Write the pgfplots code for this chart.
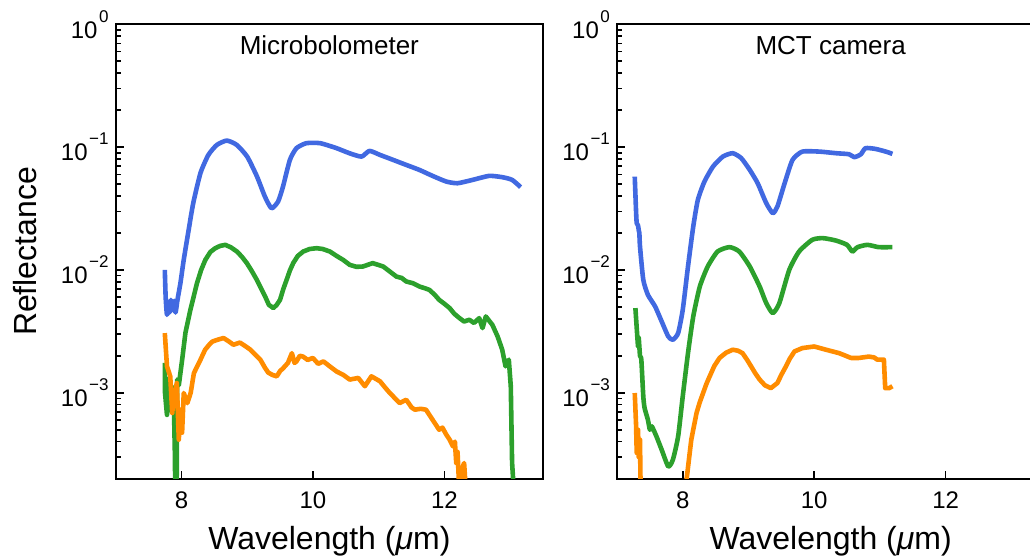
\documentclass[border=0pt]{standalone}
\usepackage{fontspec}
\setmainfont{Liberation Sans}
\usepackage{pgfplots}
\pgfplotsset{compat=1.18}

\definecolor{cblue}{HTML}{4169E1}
\definecolor{cgreen}{HTML}{2CA02C}
\definecolor{corange}{HTML}{FF8C00}

% decade label: 10 with a raised exponent
\newcommand\dec[1]{10\kern0.8pt\raisebox{8pt}{\fontsize{8.5}{9}\selectfont #1}}

\pgfplotsset{
  every axis/.append style={
    scale only axis, width=213.65pt, height=227.15pt,
    xmin=7, xmax=13.5, ymin=2e-4, ymax=1,
    xtick={8,10,12}, xticklabels={8,10,12},
    ytick={1e-3,1e-2,1e-1,1},
    yticklabels={\dec{−3},\dec{−2},\dec{−1},\dec{0}},
    minor ytick={2e-4,3e-4,4e-4,5e-4,6e-4,7e-4,8e-4,9e-4,
                 2e-3,3e-3,4e-3,5e-3,6e-3,7e-3,8e-3,9e-3,
                 2e-2,3e-2,4e-2,5e-2,6e-2,7e-2,8e-2,9e-2,
                 2e-1,3e-1,4e-1,5e-1,6e-1,7e-1,8e-1,9e-1},
    xtick pos=left, ytick pos=left,
    tick align=inside,
    major tick length=4pt, minor tick length=2.5pt,
    axis line style={line width=1pt},
    tick label style={font=\fontsize{12}{12}\selectfont},
    xticklabel style={yshift=-3pt},
    xlabel={Wavelength (\textit{μ}m)},
    xlabel style={font=\fontsize{16}{16}\selectfont, at={(axis description cs:0.5,-0.1387)}, anchor=center},
    ylabel style={font=\fontsize{16}{16}\selectfont},
  },
  every tick/.append style={black, line width=0.8pt},
  every axis plot/.append style={line width=2.3pt, line join=round},
}

\begin{document}
\begin{tikzpicture}
% ---------------- Microbolometer ----------------
\begin{semilogyaxis}[at={(57.85pt,40.7pt)}, anchor=south west,
  ylabel={Reflectance},
  ylabel style={at={(axis description cs:-0.211,0.5)}, anchor=center}]
\addplot[cblue, no marks, smooth, tension=0.35] coordinates {
(7.747,0.0100) (7.76,0.0060) (7.78,0.00431) (7.80,0.0055) (7.82,0.0045)
(7.84,0.0057) (7.86,0.0047) (7.89,0.0056) (7.91,0.0045) (7.94,0.00571)
(7.985,0.00785) (8.035,0.01208) (8.11,0.0212) (8.18,0.0351) (8.29,0.0616)
(8.41,0.0864) (8.54,0.1043) (8.69,0.113) (8.84,0.1043) (9.0,0.0837)
(9.15,0.0575) (9.27,0.0395) (9.37,0.0318) (9.47,0.0360) (9.545,0.0477)
(9.65,0.0787) (9.75,0.098) (9.90,0.1076) (10.11,0.1076) (10.36,0.098)
(10.56,0.089) (10.74,0.0837) (10.86,0.0931) (11.02,0.0864) (11.22,0.0787)
(11.42,0.0716) (11.62,0.0652) (11.82,0.0583) (12.03,0.0524) (12.20,0.0508)
(12.43,0.0541) (12.68,0.0583) (12.88,0.0569) (13.03,0.0541) (13.16,0.0472)
};
\addplot[cgreen, no marks] coordinates {
(7.747,0.00175) (7.75,0.00100) (7.78,0.00066) (7.80,0.00130) (7.83,0.00080)
(7.86,0.00069) (7.88,0.00110) (7.90,0.00032) (7.91,0.00010) (7.925,0.00010)
(7.935,0.00128) (7.96,0.00115) (8.011,0.00186) (8.061,0.00308) (8.136,0.00473)
(8.238,0.00785) (8.30,0.0100) (8.364,0.01208) (8.44,0.0140) (8.515,0.01503)
(8.59,0.0157) (8.667,0.01600) (8.75,0.0153) (8.844,0.01412) (8.92,0.0128)
(8.995,0.01136) (9.07,0.0098) (9.147,0.0083) (9.21,0.0071) (9.273,0.00608)
(9.33,0.0052) (9.398,0.00489) (9.45,0.0052) (9.5,0.00571) (9.55,0.0070)
(9.60,0.0083) (9.65,0.0099) (9.70,0.01136) (9.77,0.0130) (9.853,0.01412)
(9.95,0.0148) (10.056,0.01503) (10.15,0.0148) (10.258,0.01412) (10.36,0.0130)
(10.459,0.01208) (10.56,0.0110) (10.66,0.0106) (10.76,0.01066) (10.91,0.01136)
(11.07,0.01066) (11.17,0.0097) (11.27,0.00883) (11.35,0.0086) (11.42,0.00805)
(11.52,0.0078) (11.62,0.00733) (11.70,0.0071) (11.77,0.00689) (11.85,0.0063)
(11.92,0.00571) (12.00,0.0053) (12.08,0.00489) (12.15,0.0044) (12.23,0.00405)
(12.30,0.00380) (12.38,0.00393) (12.45,0.00370) (12.53,0.00405) (12.58,0.00336)
(12.63,0.00418) (12.73,0.00357) (12.81,0.00287) (12.88,0.00224) (12.93,0.00164)
(12.98,0.00186) (13.01,0.00113) (13.03,0.000268) (13.06,0.00015)
};
\addplot[corange, no marks] coordinates {
(7.747,0.00306) (7.78,0.00164) (7.83,0.00136) (7.86,0.000684) (7.88,0.000877)
(7.93,0.0012) (7.96,0.000415) (7.985,0.000728) (8.01,0.000473) (8.035,0.000995)
(8.09,0.000824) (8.14,0.000995) (8.19,0.001446) (8.24,0.00164) (8.29,0.00186)
(8.36,0.00224) (8.42,0.00245) (8.47,0.00261) (8.55,0.00270) (8.64,0.00279)
(8.72,0.00262) (8.79,0.00246) (8.89,0.00256) (8.97,0.00240) (9.05,0.00224)
(9.12,0.00205) (9.20,0.00186) (9.27,0.00160) (9.32,0.00146) (9.38,0.00140)
(9.45,0.00136) (9.50,0.00150) (9.55,0.00159) (9.62,0.00175) (9.68,0.0021)
(9.72,0.00175) (9.75,0.0018) (9.80,0.00200) (9.85,0.00197) (9.92,0.00185)
(10.0,0.00192) (10.08,0.00172) (10.16,0.0018) (10.25,0.00165) (10.36,0.00149)
(10.46,0.00140) (10.56,0.00128) (10.69,0.00132) (10.79,0.00113) (10.89,0.00136)
(11.02,0.00124) (11.10,0.00110) (11.17,0.000995) (11.25,0.00090) (11.32,0.000824)
(11.42,0.000877) (11.50,0.00076) (11.55,0.000728) (11.64,0.00074) (11.72,0.000728)
(11.82,0.000603) (11.92,0.0005) (11.97,0.00052) (12.03,0.000455) (12.08,0.000415)
(12.13,0.000366) (12.16,0.00040) (12.18,0.000268) (12.20,0.00033) (12.23,0.00015)
(12.28,0.00025) (12.30,0.000268) (12.33,0.00015)
};
\node[font=\fontsize{13}{13}\selectfont, anchor=base] at (rel axis cs:0.5,0.934) {Microbolometer};
\end{semilogyaxis}

% ---------------- MCT camera ----------------
\begin{semilogyaxis}[at={(308.5pt,40.7pt)}, anchor=south west]
\addplot[cblue, no marks, smooth, tension=0.35] coordinates {
(7.27,0.0575) (7.29,0.030) (7.30,0.0240) (7.32,0.0230) (7.33,0.0212)
(7.34,0.0200) (7.35,0.0155) (7.40,0.0083) (7.47,0.00627) (7.58,0.00504)
(7.68,0.0038) (7.78,0.00287) (7.85,0.0027) (7.93,0.00306) (8.0,0.00473)
(8.08,0.01066) (8.16,0.02256) (8.23,0.0372) (8.33,0.0524) (8.46,0.0694)
(8.61,0.0837) (8.76,0.0892) (8.89,0.0813) (9.02,0.0652) (9.14,0.0508)
(9.27,0.035) (9.37,0.029) (9.44,0.0328) (9.55,0.0508) (9.67,0.0787)
(9.82,0.0919) (10.08,0.0919) (10.33,0.0892) (10.53,0.0875) (10.61,0.0828)
(10.71,0.0875) (10.78,0.098) (10.93,0.0967) (11.09,0.0919) (11.19,0.0881)
};
\addplot[cgreen, no marks, smooth, tension=0.35] coordinates {
(7.28,0.00489) (7.32,0.00238) (7.33,0.0028) (7.35,0.0020) (7.37,0.00186)
(7.40,0.000933) (7.42,0.00075) (7.47,0.000603) (7.50,0.00050) (7.53,0.000532)
(7.60,0.000441) (7.68,0.000343) (7.78,0.000251) (7.85,0.000285) (7.93,0.000441)
(8.0,0.000933) (8.08,0.0021) (8.16,0.00418) (8.26,0.00733) (8.38,0.01066)
(8.53,0.01412) (8.71,0.01533) (8.86,0.01412) (9.02,0.01066) (9.17,0.00733)
(9.27,0.00537) (9.37,0.00445) (9.47,0.00537) (9.62,0.0100) (9.77,0.01412)
(9.97,0.01758) (10.13,0.01815) (10.33,0.01735) (10.50,0.0160) (10.58,0.01412)
(10.66,0.01533) (10.81,0.0160) (10.98,0.01533) (11.19,0.01533)
};
\addplot[corange, no marks] coordinates {
(7.27,0.000995) (7.29,0.00055) (7.30,0.000324) (7.32,0.00050) (7.33,0.00030)
(7.35,0.000415) (7.36,0.00015) (7.37,0.00010) (8.05,0.00010) (8.06,0.0002)
(8.13,0.000415) (8.21,0.000684) (8.26,0.00084) (8.31,0.000995) (8.36,0.00118)
(8.41,0.00136) (8.48,0.00165) (8.56,0.00192) (8.66,0.00212) (8.76,0.00224)
(8.84,0.00220) (8.91,0.0021) (8.98,0.00185) (9.04,0.00164) (9.10,0.00145)
(9.17,0.00128) (9.25,0.00115) (9.34,0.00109) (9.44,0.0012) (9.50,0.00140)
(9.57,0.00164) (9.63,0.00190) (9.70,0.00217) (9.82,0.00231) (10.0,0.00238)
(10.18,0.00224) (10.38,0.0021) (10.56,0.00192) (10.68,0.00192) (10.83,0.00197)
(10.91,0.00194) (10.96,0.00186) (11.06,0.00186) (11.08,0.00109) (11.14,0.00109)
(11.19,0.00113)
};
\node[font=\fontsize{13}{13}\selectfont, anchor=base] at (rel axis cs:0.5,0.934) {MCT camera};
\end{semilogyaxis}
\pgfresetboundingbox
\useasboundingbox (0,0) rectangle (515pt,280pt);
\end{tikzpicture}
\end{document}
